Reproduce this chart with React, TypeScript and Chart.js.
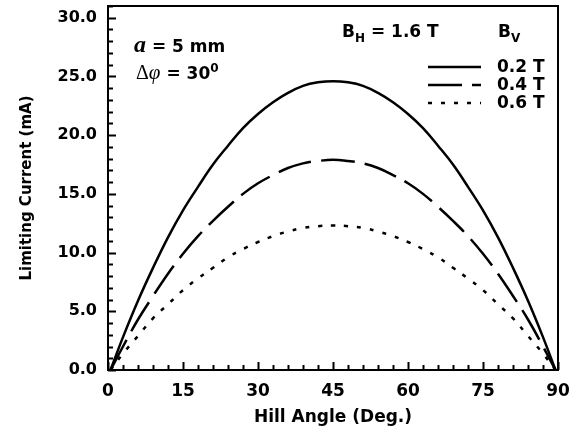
import React, { useEffect, useRef } from "react";
import { Chart, registerables } from "chart.js";
Chart.register(...registerables);

// Hill angle (deg.)
const angles = [0.5, 3, 6, 9, 12, 15, 18, 21, 24, 27, 30, 33, 36, 39, 42, 45, 48, 51, 54, 57, 60, 63, 66, 69, 72, 75, 78, 81, 84, 87, 89.5];
// Limiting current (mA) for B_V = 0.2 T, 0.4 T, 0.6 T
const currentBv02 = [0, 2.8, 5.9, 8.7, 11.3, 13.6, 15.6, 17.5, 19.1, 20.6, 21.8, 22.8, 23.6, 24.2, 24.5, 24.6, 24.5, 24.2, 23.6, 22.8, 21.8, 20.6, 19.1, 17.5, 15.6, 13.6, 11.3, 8.7, 5.9, 2.8, 0];
const currentBv04 = [0, 2.0, 4.3, 6.3, 8.2, 9.9, 11.4, 12.7, 13.9, 15.0, 15.9, 16.6, 17.2, 17.6, 17.8, 17.9, 17.8, 17.6, 17.2, 16.6, 15.9, 15.0, 13.9, 12.7, 11.4, 9.9, 8.2, 6.3, 4.3, 2.0, 0];
const currentBv06 = [0, 1.4, 2.9, 4.4, 5.6, 6.8, 7.8, 8.7, 9.6, 10.3, 10.9, 11.4, 11.8, 12.1, 12.25, 12.3, 12.25, 12.1, 11.8, 11.4, 10.9, 10.3, 9.6, 8.7, 7.8, 6.8, 5.6, 4.4, 2.9, 1.4, 0];

const seriesLabels = ["0.2 T", "0.4 T", "0.6 T"];
const seriesDashes: number[][] = [[], [34, 10], [4, 9]];

const xTitle = "Hill Angle (Deg.)";
const yTitle = "Limiting Current (mA)";
const xRange = [0, 90];
const yRange = [0, 31];
const xMajorStep = 15;
const xMinorStep = 3;
const yMajorStep = 5;
const yMinorStep = 1;

const SANS = '"DejaVu Sans", sans-serif';
const SERIF = '"Liberation Serif", serif';

const framePlugin = {
  id: "frame",
  afterDatasetsDraw(chart: any) {
    const { ctx, chartArea } = chart;
    const xs = chart.scales.x;
    const ys = chart.scales.y;
    ctx.save();
    ctx.strokeStyle = "#000";
    ctx.lineWidth = 2;
    ctx.strokeRect(chartArea.left, chartArea.top, chartArea.right - chartArea.left, chartArea.bottom - chartArea.top);
    ctx.beginPath();
    for (let v = xRange[0]; v <= xRange[1] + 1e-9; v += xMinorStep) {
      const px = Math.round(xs.getPixelForValue(v)) + 0.5;
      const len = Math.abs(v % xMajorStep) < 1e-9 ? 8 : 5;
      ctx.moveTo(px, chartArea.bottom);
      ctx.lineTo(px, chartArea.bottom - len);
    }
    for (let v = yRange[0]; v <= yRange[1] + 1e-9; v += yMinorStep) {
      const py = Math.round(ys.getPixelForValue(v)) + 0.5;
      const len = Math.abs(v % yMajorStep) < 1e-9 ? 8 : 5;
      ctx.moveTo(chartArea.left, py);
      ctx.lineTo(chartArea.left + len, py);
    }
    ctx.stroke();
    ctx.restore();
  },
};

function drawParts(ctx: any, x: number, y: number, parts: { t: string; font: string; dy?: number }[]) {
  let cx = x;
  for (const p of parts) {
    ctx.font = p.font;
    ctx.fillText(p.t, cx, y + (p.dy || 0));
    cx += ctx.measureText(p.t).width;
  }
}

const annotationPlugin = {
  id: "annot",
  afterDatasetsDraw(chart: any) {
    const { ctx } = chart;
    ctx.save();
    ctx.fillStyle = "#000";
    ctx.strokeStyle = "#000";
    ctx.textBaseline = "alphabetic";
    drawParts(ctx, 134, 52, [
      { t: "a", font: `italic bold 24px ${SERIF}` },
      { t: " = 5 mm", font: `bold 17px ${SANS}` },
    ]);
    drawParts(ctx, 136, 79, [
      { t: "Δ", font: `20px ${SERIF}` },
      { t: "φ", font: `italic 21px ${SERIF}` },
      { t: " = 30", font: `bold 17px ${SANS}` },
      { t: "0", font: `bold 12px ${SANS}`, dy: -7 },
    ]);
    drawParts(ctx, 342, 37, [
      { t: "B", font: `bold 17px ${SANS}` },
      { t: "H", font: `bold 12px ${SANS}`, dy: 5 },
      { t: " = 1.6 T", font: `bold 17px ${SANS}` },
    ]);
    drawParts(ctx, 498, 37, [
      { t: "B", font: `bold 17px ${SANS}` },
      { t: "V", font: `bold 12px ${SANS}`, dy: 5 },
    ]);
    const rows = [67, 85, 103];
    ctx.lineWidth = 2.5;
    ctx.textBaseline = "middle";
    rows.forEach((ry, i) => {
      ctx.setLineDash(seriesDashes[i]);
      ctx.beginPath();
      ctx.moveTo(428, ry);
      ctx.lineTo(481, ry);
      ctx.stroke();
      ctx.setLineDash([]);
      ctx.font = `bold 17px ${SANS}`;
      ctx.fillText(seriesLabels[i], 497, ry + 1);
    });
    ctx.restore();
  },
};

export default function App() {
  const ref = useRef<HTMLCanvasElement | null>(null);
  useEffect(() => {
    if (!ref.current) return;
    const seriesValues = [currentBv02, currentBv04, currentBv06];
    const chart = new Chart(ref.current, {
      type: "line",
      data: {
        datasets: seriesValues.map((vals, i) => ({
          label: seriesLabels[i],
          data: angles.map((a, k) => ({ x: a, y: vals[k] })),
          borderColor: "#000",
          borderWidth: 2.5,
          borderDash: seriesDashes[i],
          pointRadius: 0,
          fill: false,
          tension: 0.4,
        })),
      },
      options: {
        responsive: false,
        animation: false,
        devicePixelRatio: 1,
        layout: { padding: { top: 6, right: 18, left: 0, bottom: 0 } },
        plugins: { legend: { display: false }, tooltip: { enabled: false } },
        scales: {
          x: {
            type: "linear",
            min: xRange[0],
            max: xRange[1],
            grid: { display: false, drawTicks: false },
            border: { display: true, color: "#000", width: 2 },
            ticks: {
              stepSize: xMajorStep,
              includeBounds: false,
              padding: 11,
              color: "#000",
              maxRotation: 0,
              autoSkip: false,
              font: { family: SANS, weight: "bold", size: 17 },
              callback: (v: any) => (Number(v) % xMajorStep === 0 ? String(v) : ""),
            },
            title: {
              display: true,
              text: xTitle,
              color: "#000",
              font: { family: SANS, weight: "bold", size: 17 },
              padding: { top: 0, bottom: 4 },
            },
            afterFit: (s: any) => {
              s.height = 62;
              s.paddingLeft = 0;
              s.paddingRight = 0;
            },
          },
          y: {
            type: "linear",
            min: yRange[0],
            max: yRange[1],
            grid: { display: false, drawTicks: false },
            border: { display: true, color: "#000", width: 2 },
            ticks: {
              stepSize: yMajorStep,
              includeBounds: false,
              padding: 11,
              color: "#000",
              autoSkip: false,
              font: { family: SANS, weight: "bold", size: 16 },
              callback: (v: any) => (Number(v) % yMajorStep === 0 ? Number(v).toFixed(1) : ""),
            },
            title: {
              display: true,
              text: yTitle,
              color: "#000",
              font: { family: SANS, weight: "bold", size: 15 },
              padding: { top: 18, bottom: 0 },
            },
            afterFit: (s: any) => {
              s.width = 108;
              s.paddingTop = 0;
              s.paddingBottom = 0;
            },
          },
        },
      },
      plugins: [framePlugin, annotationPlugin],
    });
    return () => chart.destroy();
  }, []);
  return (
    <div style={{ position: "fixed", left: 0, top: 0, width: 576, height: 432, background: "#fff" }}>
      <canvas ref={ref} width={576} height={432} style={{ width: 576, height: 432 }} />
    </div>
  );
}
